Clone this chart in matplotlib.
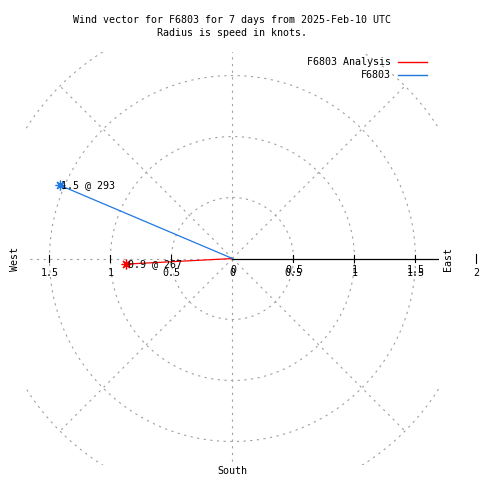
import numpy as np
import matplotlib
matplotlib.use("Agg")
import matplotlib.pyplot as plt

# wind vectors (speed in knots, compass direction in degrees)
names = ["F6803 Analysis", "F6803"]
speeds = [0.87, 1.54]
directions = [267, 293]
colors = ["#ff0000", "#1f78e0"]

ring_radii = [0.5, 1.0, 1.5, 2.0]
spoke_angles = [45, 90, 135, 180, 225, 270, 315]
east_ticks = [0, 0.5, 1, 1.5]
west_ticks = [-1.5, -1, -0.5]

plt.rcParams['font.family'] = ['DejaVu Sans Mono']
fs = 7.2
grid_kw = dict(color="#a0a0a0", lw=0.8, ls=(0, (2, 4)))

fig = plt.figure(figsize=(4.8, 4.8), dpi=100)
lim = 1.69
ax = fig.add_axes([0.0548, 0.0319, 0.859, 0.859])
ax.set_xlim(-lim, lim)
ax.set_ylim(-lim, lim)
ax.set_aspect('equal')
ax.axis('off')

# polar grid
t = np.linspace(0, 2 * np.pi, 400)
for r in ring_radii:
    ax.plot(r * np.cos(t), r * np.sin(t), **grid_kw)
for a in spoke_angles:
    rad = np.deg2rad(a)
    ax.plot([0, 2 * np.cos(rad)], [0, 2 * np.sin(rad)], **grid_kw)

# east axis (solid) with ticks
ax.plot([0, lim], [0, 0], color="black", lw=0.9)
tick_h = 0.03
for x in east_ticks[1:] + west_ticks:
    ax.plot([x, x], [-tick_h, tick_h], color="black", lw=0.8)
ax.plot([2, 2], [-0.04, 0.04], color="black", lw=0.8, clip_on=False)

# tick labels (east labels drawn twice like the original)
for x in east_ticks:
    lab = "%g" % x
    ax.text(x, -0.115, lab, ha="center", va="center", fontsize=fs)
    ax.text(x + 0.006, -0.09, lab, ha="center", va="center", fontsize=fs)
for x in west_ticks:
    ax.text(x, -0.115, "%g" % abs(x), ha="center", va="center", fontsize=fs)
ax.text(2, -0.115, "2", ha="center", va="center", fontsize=fs, clip_on=False)

ax.text(1.765, 0, "East", rotation=90, ha="center", va="center", fontsize=fs, clip_on=False)
ax.text(-1.78, 0, "West", rotation=90, ha="center", va="center", fontsize=fs, clip_on=False)
ax.text(0, -1.745, "South", ha="center", va="center", fontsize=fs, clip_on=False)

# wind vectors
for name, s, d, c in zip(names, speeds, directions, colors):
    rad = np.deg2rad(d)
    x, y = s * np.sin(rad), s * np.cos(rad)
    ax.plot([0, x], [0, y], color=c, lw=0.9, label=name)
    ax.plot([x], [y], marker=(8, 2, 0), ms=7, mew=0.9, color=c)
    ax.text(x + 0.01, y, "%.1f @ %d" % (s, d), ha="left", va="center", fontsize=fs)

# legend
fig.text(391 / 480, 1 - 62 / 480, names[0], ha="right", va="center", fontsize=fs)
fig.text(391 / 480, 1 - 75 / 480, names[1], ha="right", va="center", fontsize=fs)
fig.add_artist(plt.Line2D([398 / 480, 427 / 480], [1 - 62 / 480] * 2, color=colors[0], lw=1))
fig.add_artist(plt.Line2D([398 / 480, 427 / 480], [1 - 75 / 480] * 2, color=colors[1], lw=1))

fig.text(232 / 480, 1 - 20 / 480, "Wind vector for F6803 for 7 days from 2025-Feb-10 UTC",
         ha="center", va="center", fontsize=fs)
fig.text(232 / 480, 1 - 33 / 480, "Radius is speed in knots.", ha="center", va="center", fontsize=fs)

fig.savefig("out.png", dpi=100)
